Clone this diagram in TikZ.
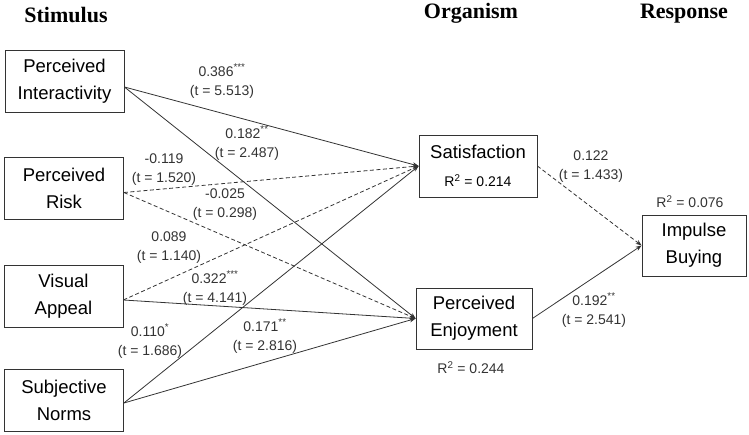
\documentclass[tikz,border=0pt]{standalone}
\usepackage{fontspec}
\setmainfont{Liberation Serif}
\setsansfont{Liberation Sans}
\usetikzlibrary{arrows.meta}

\tikzset{
	box/.style={draw=black!80, line width=0.8pt, minimum width=119pt, minimum height=62pt, inner sep=0pt, align=center, font=\sffamily\fontsize{18.5}{27}\selectfont},
	header/.style={font=\bfseries\fontsize{22}{22}\selectfont},
	coef/.style={align=center, inner sep=0pt, font=\sffamily\fontsize{14}{19}\selectfont, text=black!80},
	path/.style={draw=black!80, line width=0.8pt, -{Stealth[length=6pt,width=4.5pt]}},
	nspath/.style={path, dash pattern=on 4pt off 2.5pt}
}
\def\rsq#1{R\textsuperscript{2} = #1}

\begin{document}
\begin{tikzpicture}[x=1pt, y=-1pt]
		%%%%% START %%%%%
		\useasboundingbox (0, 0) rectangle (749, 435);
		
		\node[header] (hstim) at (66, 15) {Stimulus};
		\node[header] (horg) at (471, 13) {Organism};
		\node[header] (hresp) at (684, 14) {Response};
		
		\node[box] (pi) at (64.5, 81) {Perceived\\Interactivity};
		\node[box] (pr) at (64, 188.5) {Perceived\\Risk};
		\node[box] (va) at (63.5, 296) {Visual\\Appeal};
		\node[box] (sn) at (64, 400) {Subjective\\Norms};
		
		\coordinate (pio) at ([yshift=-6pt]pi.east);
		\coordinate (pro) at ([yshift=-4pt]pr.east);
		\coordinate (vao) at ([yshift=-4pt]va.east);
		\coordinate (sno) at ([yshift=-3pt]sn.east);
		
		\node[box, minimum width=118pt, font=\sffamily\fontsize{18.5}{28}\selectfont] (sat) at (478, 166) {Satisfaction\\{\fontsize{14}{14}\selectfont\rsq{0.214}}};
		\node[box, minimum width=116pt, minimum height=61pt] (pe) at (474, 318.5) {Perceived\\Enjoyment};
		\node[box, minimum width=104pt, minimum height=61pt] (ib) at (694, 245.5) {Impulse\\Buying};
		
		\draw[path] (pio) -- (sat.west);
		\draw[path] (pio) -- (pe.west);
		\draw[nspath] (pro) -- (sat.west);
		\draw[nspath] (pro) -- (pe.west);
		\draw[nspath] (vao) -- (sat.west);
		\draw[path] (vao) -- (pe.west);
		\draw[path] (sno) -- (sat.west);
		\draw[path] (sno) -- (pe.west);
		
		\draw[nspath] (sat.east) -- (ib.west);
		\draw[path] (pe.east) -- (ib.west);
		
		\node[coef] (c1) at (222, 81) {0.386\textsuperscript{***}\\(t = 5.513)};
		\node[coef] (c2) at (247, 143) {0.182\textsuperscript{**}\\(t = 2.487)};
		\node[coef] (c3) at (164, 170) {-0.119\\(t = 1.520)};
		\node[coef] (c4) at (225, 205) {-0.025\\(t = 0.298)};
		\node[coef] (c5) at (169, 248) {0.089\\(t = 1.140)};
		\node[coef] (c6) at (215, 288) {0.322\textsuperscript{***}\\(t = 4.141)};
		\node[coef] (c7) at (150, 341) {0.110\textsuperscript{*}\\(t = 1.686)};
		\node[coef] (c8) at (265, 336) {0.171\textsuperscript{**}\\(t = 2.816)};
		\node[coef] (c9) at (591, 167) {0.122\\(t = 1.433)};
		\node[coef] (c10) at (594, 310) {0.192\textsuperscript{**}\\(t = 2.541)};
		
		\node[coef] (r1) at (690, 202) {\rsq{0.076}};
		\node[coef] (r2) at (471, 368) {\rsq{0.244}};
		
		%%%%% END %%%%%
	\end{tikzpicture}
\end{document}
